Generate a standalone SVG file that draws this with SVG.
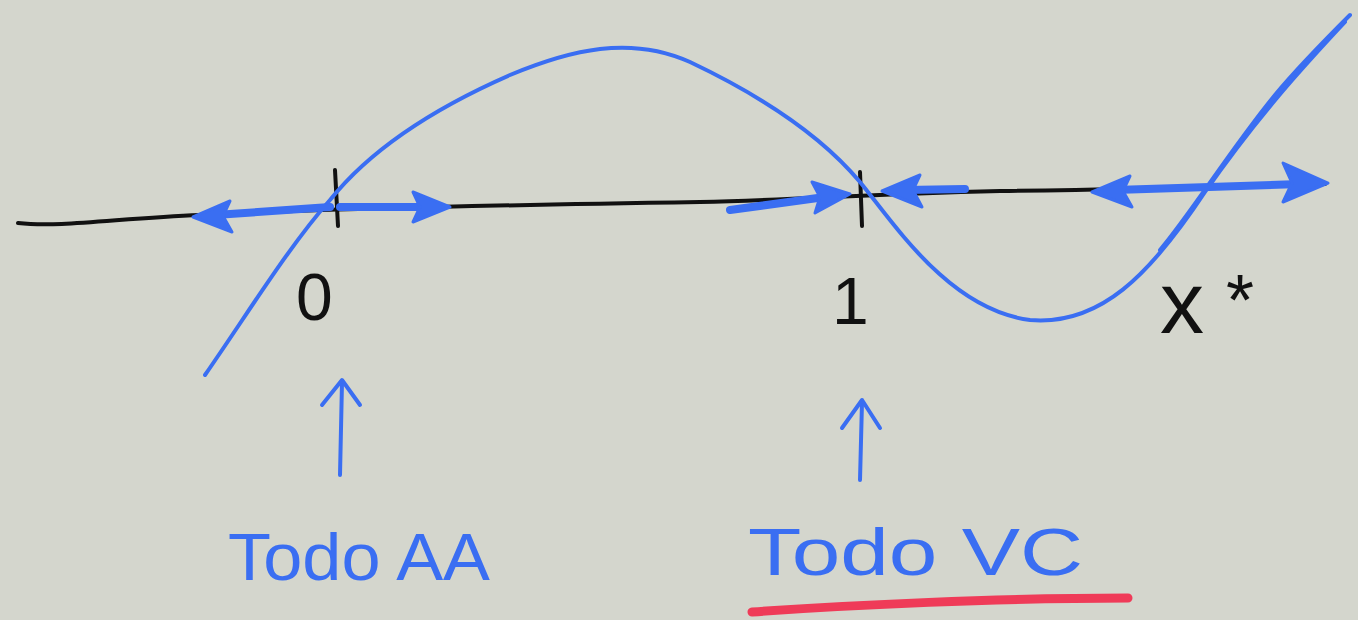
<svg xmlns="http://www.w3.org/2000/svg" width="1358" height="620" viewBox="0 0 1358 620">
  <style>
    .ink { fill: none; stroke-linecap: round; stroke-linejoin: round; }
    .black { stroke: #111; stroke-width: 4; }
    .blue { stroke: #3a6ef2; stroke-width: 4; }
    .flow { stroke: #3a6ef2; stroke-width: 8; }
    .head { fill: #3a6ef2; stroke: #3a6ef2; stroke-width: 3; stroke-linejoin: round; }
    .label { font-family: "Liberation Sans", "DejaVu Sans", sans-serif; }
    .dark { fill: #111; }
    .bl { fill: #3a6ef2; }
  </style>
  <rect width="1358" height="620" fill="#d4d6cd"/>

  <g id="axis">
    <path class="ink black" d="M18,223 C60,228 120,218 200,215 C300,210 500,205 700,202 C800,200 860,194 1000,191 C1150,189 1250,186 1325,184"/>
    <path class="ink black" d="M335,170 L338,226"/>
    <path class="ink black" d="M860,172 L862,226"/>
  </g>

  <g id="curve">
    <path class="ink blue" d="M205,375 C250,310 290,245 330,200 C370,150 430,110 510,75 C570,50 630,35 690,62 C770,100 825,140 860,182 C895,225 950,310 1030,320 C1100,326 1150,275 1205,192 C1255,120 1300,70 1345,22"/>
    <path class="ink blue" d="M1160,250 C1190,215 1230,150 1275,95 C1300,65 1325,40 1350,15" stroke-width="3"/>
  </g>

  <g id="connectors">
    <!-- flow along the axis -->
    <path class="ink flow" d="M215,215 L330,207"/>
    <path class="head" d="M193,217 L230,201 L223,216 L232,232 Z"/>
    <path class="ink flow" d="M340,207 L425,207"/>
    <path class="head" d="M450,207 L413,192 L420,207 L413,222 Z"/>
    <path class="ink flow" d="M730,210 L825,197"/>
    <path class="head" d="M850,194 L812,182 L820,197 L815,213 Z"/>
    <path class="ink flow" d="M905,190 L965,189"/>
    <path class="head" d="M882,191 L920,175 L913,190 L922,207 Z"/>
    <path class="ink flow" d="M1115,190 L1300,184"/>
    <path class="head" d="M1092,192 L1130,176 L1123,191 L1132,207 Z"/>
    <path class="head" d="M1328,183 L1283,163 L1292,183 L1283,202 Z"/>
    <!-- pointers to the labels -->
    <path class="ink blue" d="M340,475 L342,382"/>
    <path class="ink blue" d="M322,405 L342,380 L360,405"/>
    <path class="ink blue" d="M860,480 L862,402"/>
    <path class="ink blue" d="M842,428 L862,400 L880,428"/>
  </g>

  <g id="label-zero">
    <text class="label dark" x="296" y="320" font-size="66">0</text>
  </g>
  <g id="label-one">
    <text class="label dark" x="832" y="324" font-size="66">1</text>
  </g>
  <g id="label-xstar">
    <text class="label dark" x="1160" y="333" font-size="88">x</text>
    <text class="label dark" x="1226" y="325" font-size="72">*</text>
  </g>

  <g id="label-aa">
    <text class="label bl" x="228" y="580" font-size="66" textLength="262" lengthAdjust="spacingAndGlyphs">Todo AA</text>
  </g>
  <g id="label-vc">
    <text class="label bl" x="748" y="575" font-size="66" textLength="335" lengthAdjust="spacingAndGlyphs">Todo VC</text>
    <path class="ink" d="M752,612 C850,605 1000,598 1128,598" stroke="#ef3b58" stroke-width="9"/>
  </g>
</svg>
